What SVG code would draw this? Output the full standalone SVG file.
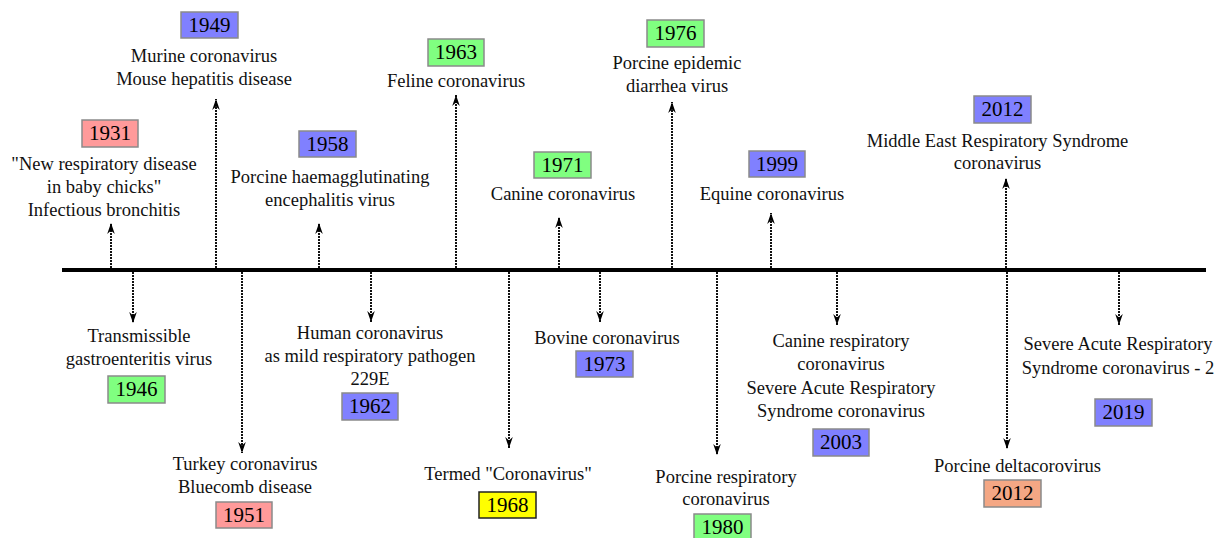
<svg xmlns="http://www.w3.org/2000/svg" width="1221" height="538" viewBox="0 0 1221 538" font-family="Liberation Serif, serif">
<style>
text{font-family:'Liberation Serif','DejaVu Serif',serif}
.lbl{font-size:18.5px;fill:#111;text-anchor:middle}
.yr{font-size:21px;fill:#000;text-anchor:middle}
.box{stroke:#8a8a8a;stroke-width:1.5}
.blue{fill:#8080ff}.green{fill:#80ff80}.pink{fill:#ff9a9a}.orange{fill:#f4a784}.yellow{fill:#ffff00;stroke:#222}
.conn{stroke:#111;stroke-width:2;stroke-dasharray:2 1;fill:none}
</style>
<defs>
<marker id="ah" markerUnits="userSpaceOnUse" markerWidth="12" markerHeight="10" viewBox="-11 -5 12 10" refX="0" refY="0" orient="auto">
<path d="M0,0 L-11,-3.8 L-7.5,0 L-11,3.8 Z" fill="#000"/>
</marker>
</defs>
<rect width="1221" height="538" fill="#fff"/>
<g id="connectors">
<line x1="62" y1="270" x2="1206" y2="270" stroke="#000" stroke-width="4"/>
<line class="conn" x1="111" y1="268" x2="111" y2="223" marker-end="url(#ah)"/>
<line class="conn" x1="216" y1="268" x2="216" y2="99" marker-end="url(#ah)"/>
<line class="conn" x1="319" y1="268" x2="319" y2="223" marker-end="url(#ah)"/>
<line class="conn" x1="456" y1="268" x2="456" y2="95" marker-end="url(#ah)"/>
<line class="conn" x1="559" y1="268" x2="559" y2="217" marker-end="url(#ah)"/>
<line class="conn" x1="672" y1="268" x2="672" y2="102" marker-end="url(#ah)"/>
<line class="conn" x1="771" y1="268" x2="771" y2="213" marker-end="url(#ah)"/>
<line class="conn" x1="1006" y1="268" x2="1006" y2="178" marker-end="url(#ah)"/>
<line class="conn" x1="133" y1="272" x2="133" y2="323" marker-end="url(#ah)"/>
<line class="conn" x1="242" y1="272" x2="242" y2="453" marker-end="url(#ah)"/>
<line class="conn" x1="371" y1="272" x2="371" y2="322" marker-end="url(#ah)"/>
<line class="conn" x1="509" y1="272" x2="509" y2="448" marker-end="url(#ah)"/>
<line class="conn" x1="600" y1="272" x2="600" y2="322" marker-end="url(#ah)"/>
<line class="conn" x1="717" y1="272" x2="717" y2="455" marker-end="url(#ah)"/>
<line class="conn" x1="837" y1="272" x2="837" y2="325" marker-end="url(#ah)"/>
<line class="conn" x1="1007" y1="272" x2="1007" y2="449" marker-end="url(#ah)"/>
<line class="conn" x1="1119" y1="272" x2="1119" y2="325" marker-end="url(#ah)"/>
</g>
<g id="n1931">
<rect class="box pink" x="82" y="120" width="56" height="27"/>
<text class="yr" x="110" y="140">1931</text>
<text class="lbl"><tspan x="104" y="170">"New respiratory disease</tspan><tspan x="104" y="193">in baby chicks"</tspan><tspan x="104" y="216">Infectious bronchitis</tspan></text>
</g>
<g id="n1949">
<rect class="box blue" x="181" y="12" width="57" height="26"/>
<text class="yr" x="209.5" y="32">1949</text>
<text class="lbl"><tspan x="204" y="62">Murine coronavirus</tspan><tspan x="204" y="85">Mouse hepatitis disease</tspan></text>
</g>
<g id="n1958">
<rect class="box blue" x="299" y="131" width="57" height="26"/>
<text class="yr" x="327.5" y="151">1958</text>
<text class="lbl"><tspan x="330" y="183">Porcine haemagglutinating</tspan><tspan x="330" y="206">encephalitis virus</tspan></text>
</g>
<g id="n1963">
<rect class="box green" x="428" y="39" width="56" height="27"/>
<text class="yr" x="456" y="59">1963</text>
<text class="lbl" x="456" y="87">Feline coronavirus</text>
</g>
<g id="n1971">
<rect class="box green" x="534" y="152" width="57" height="26"/>
<text class="yr" x="562.5" y="172">1971</text>
<text class="lbl" x="563" y="200">Canine coronavirus</text>
</g>
<g id="n1976">
<rect class="box green" x="647" y="20" width="57" height="27"/>
<text class="yr" x="675.5" y="40">1976</text>
<text class="lbl"><tspan x="677" y="69">Porcine epidemic</tspan><tspan x="677" y="92">diarrhea virus</tspan></text>
</g>
<g id="n1999">
<rect class="box blue" x="749" y="151" width="56" height="26"/>
<text class="yr" x="777" y="171">1999</text>
<text class="lbl" x="772" y="200">Equine coronavirus</text>
</g>
<g id="n2012mers">
<rect class="box blue" x="974" y="96" width="57" height="27"/>
<text class="yr" x="1002.5" y="116">2012</text>
<text class="lbl"><tspan x="997.5" y="147">Middle East Respiratory Syndrome</tspan><tspan x="997.5" y="169">coronavirus</tspan></text>
</g>
<g id="n1946">
<rect class="box green" x="108" y="376" width="57" height="27"/>
<text class="yr" x="136.5" y="396">1946</text>
<text class="lbl"><tspan x="139" y="342">Transmissible</tspan><tspan x="139" y="365">gastroenteritis virus</tspan></text>
</g>
<g id="n1951">
<rect class="box pink" x="216" y="502" width="56" height="26"/>
<text class="yr" x="244" y="522">1951</text>
<text class="lbl"><tspan x="245" y="470">Turkey coronavirus</tspan><tspan x="245" y="493">Bluecomb disease</tspan></text>
</g>
<g id="n1962">
<rect class="box blue" x="342" y="393" width="56" height="27"/>
<text class="yr" x="370" y="413">1962</text>
<text class="lbl"><tspan x="370" y="339">Human coronavirus</tspan><tspan x="370" y="362">as mild respiratory pathogen</tspan><tspan x="370" y="385">229E</tspan></text>
</g>
<g id="n1968">
<rect class="box yellow" x="479" y="492" width="57" height="26"/>
<text class="yr" x="507.5" y="512">1968</text>
<text class="lbl" x="508" y="480">Termed "Coronavirus"</text>
</g>
<g id="n1973">
<rect class="box blue" x="576" y="351" width="57" height="26"/>
<text class="yr" x="604.5" y="371">1973</text>
<text class="lbl" x="607" y="344">Bovine coronavirus</text>
</g>
<g id="n1980">
<rect class="box green" x="694" y="514" width="57" height="27"/>
<text class="yr" x="722.5" y="534">1980</text>
<text class="lbl"><tspan x="726" y="483">Porcine respiratory</tspan><tspan x="726" y="505">coronavirus</tspan></text>
</g>
<g id="n2003">
<rect class="box blue" x="813" y="429" width="56" height="27"/>
<text class="yr" x="841" y="449">2003</text>
<text class="lbl"><tspan x="841" y="347">Canine respiratory</tspan><tspan x="841" y="370">coronavirus</tspan><tspan x="841" y="394">Severe Acute Respiratory</tspan><tspan x="841" y="417">Syndrome coronavirus</tspan></text>
</g>
<g id="n2012pdcov">
<rect class="box orange" x="984" y="480" width="57" height="27"/>
<text class="yr" x="1012.5" y="500">2012</text>
<text class="lbl" x="1017.5" y="472">Porcine deltacorovirus</text>
</g>
<g id="n2019">
<rect class="box blue" x="1095" y="399" width="57" height="27"/>
<text class="yr" x="1123.5" y="419">2019</text>
<text class="lbl"><tspan x="1118" y="350">Severe Acute Respiratory</tspan><tspan x="1118" y="374">Syndrome coronavirus - 2</tspan></text>
</g>
</svg>
